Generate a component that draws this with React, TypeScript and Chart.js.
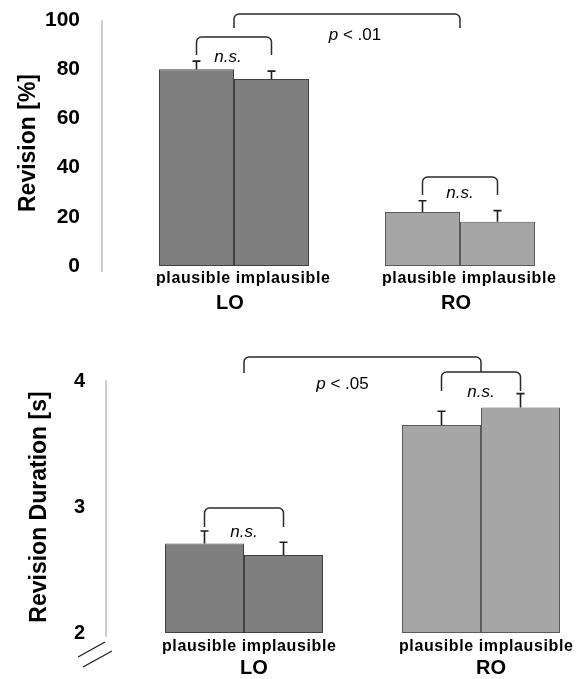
import React, { useEffect, useRef } from 'react';
import { Chart, registerables } from 'chart.js';

Chart.register(...registerables);

const FONT = "'Liberation Sans', Arial, Helvetica, sans-serif";

// ---------- data ----------
const groups = ['LO', 'RO'];
const conditionLabel = 'plausible implausible';

const revisionPlausible = [80, 22];
const revisionImplausible = [76, 18];
const revisionErrPlausible = [3.3, 4.5];
const revisionErrImplausible = [3.2, 4.5];
const revisionTicks = [0, 20, 40, 60, 80, 100];

const durationPlausible = [2.71, 3.65];
const durationImplausible = [2.62, 3.79];
const durationErrPlausible = [0.1, 0.11];
const durationErrImplausible = [0.1, 0.11];
const durationTicks = [2, 3, 4];

// significance brackets: endpoints [group, condition] (condition -1 = group centre), levels in data units
const revisionBrackets = [
  { a: [0, 0], b: [0, 1], top: 93.1, legA: 85.8, legB: 85.8, label: 'n.s.' },
  { a: [0, -1], b: [1, -1], top: 102.4, legA: 96.7, legB: 96.7, label: 'p < .01' },
  { a: [1, 0], b: [1, 1], top: 36.2, legA: 28.9, legB: 28.9, label: 'n.s.' },
];
const durationBrackets = [
  { a: [0, 0], b: [0, 1], top: 2.992, legA: 2.841, legB: 2.841, label: 'n.s.' },
  { a: [0, -1], b: [1, -1], top: 4.19, legA: 4.063, legB: 4.071, label: 'p < .05' },
  { a: [1, 0], b: [1, 1], top: 4.071, legA: 3.921, legB: 3.921, label: 'n.s.' },
];
// text offsets (px) of bracket labels relative to bracket centre / horizontal line
const revisionLabelOffsets = [[-6, 20], [8, 21], [0, 16]];
const durationLabelOffsets = [[0, 24], [-20, 27], [0, 20]];

const DARK = '#7f7f7f';
const LIGHT = '#a6a6a6';

function makePlugin(p: any) {
  return {
    id: 'annot',
    afterDatasetsDraw(chart: any) {
      const ctx = chart.ctx;
      const y = chart.scales.y;
      const x = chart.scales.x;
      const area = chart.chartArea;
      ctx.save();

      // y axis line
      const axisX = area.left - p.axisLineOffset;
      ctx.strokeStyle = '#bdbdbd';
      ctx.lineWidth = 1.5;
      ctx.beginPath();
      ctx.moveTo(axisX, y.getPixelForValue(p.max) + p.axisTopExtra);
      ctx.lineTo(axisX, y.getPixelForValue(p.min) + p.axisBottomExtra);
      ctx.stroke();

      // axis break marks
      if (p.axisBreak) {
        const yb = y.getPixelForValue(p.min);
        ctx.strokeStyle = '#222';
        ctx.lineWidth = 1.4;
        ctx.beginPath();
        ctx.moveTo(axisX - 28, yb + 24);
        ctx.lineTo(axisX - 1, yb + 9);
        ctx.moveTo(axisX - 23, yb + 34);
        ctx.lineTo(axisX + 6, yb + 18);
        ctx.stroke();
      }

      // error bars
      ctx.strokeStyle = '#1e1e1e';
      ctx.lineWidth = 1.6;
      const errs = [p.errP, p.errI];
      const vals = [p.plausible, p.implausible];
      for (let d = 0; d < 2; d++) {
        const meta = chart.getDatasetMeta(d);
        meta.data.forEach((bar: any, i: number) => {
          const yt = y.getPixelForValue(vals[d][i] + errs[d][i]);
          ctx.beginPath();
          ctx.moveTo(bar.x, bar.y);
          ctx.lineTo(bar.x, yt);
          ctx.moveTo(bar.x - 4, yt);
          ctx.lineTo(bar.x + 4, yt);
          ctx.stroke();
        });
      }

      // condition labels
      ctx.fillStyle = '#000';
      ctx.font = `bold 16px ${FONT}`;
      ctx.textAlign = 'left';
      ctx.textBaseline = 'middle';
      try { (ctx as any).letterSpacing = '0.6px'; } catch (e) {}
      const meta0 = chart.getDatasetMeta(0);
      meta0.data.forEach((bar: any) => {
        ctx.fillText(conditionLabel, bar.x - bar.width / 2 - 3, area.bottom + p.subDy);
      });
      try { (ctx as any).letterSpacing = '0px'; } catch (e) {}

      // brackets
      const px = (e: number[]) =>
        e[1] < 0 ? x.getPixelForValue(e[0]) : chart.getDatasetMeta(e[1]).data[e[0]].x;
      ctx.strokeStyle = '#2a2a2a';
      ctx.lineWidth = 1.5;
      p.brackets.forEach((b: any, k: number) => {
        const x1 = px(b.a);
        const x2 = px(b.b);
        const yTop = y.getPixelForValue(b.top);
        const y1 = y.getPixelForValue(b.legA);
        const y2 = y.getPixelForValue(b.legB);
        const r = 5;
        ctx.beginPath();
        ctx.moveTo(x1, y1);
        ctx.arcTo(x1, yTop, x2, yTop, r);
        ctx.arcTo(x2, yTop, x2, y2, r);
        ctx.lineTo(x2, y2);
        ctx.stroke();

        const [dx, dy] = p.labelOffsets[k];
        const cx = (x1 + x2) / 2 + dx;
        const cy = yTop + dy;
        ctx.textBaseline = 'middle';
        ctx.fillStyle = '#000';
        if (b.label.startsWith('p')) {
          const rest = b.label.slice(1);
          ctx.font = `italic 17px ${FONT}`;
          const w1 = ctx.measureText('p').width;
          ctx.font = `17px ${FONT}`;
          const w2 = ctx.measureText(rest).width;
          const sx = cx - (w1 + w2) / 2;
          ctx.textAlign = 'left';
          ctx.font = `italic 17px ${FONT}`;
          ctx.fillText('p', sx, cy);
          ctx.font = `17px ${FONT}`;
          ctx.fillText(rest, sx + w1, cy);
        } else {
          ctx.font = `italic 17px ${FONT}`;
          ctx.textAlign = 'center';
          ctx.fillText(b.label, cx, cy);
        }
      });
      ctx.restore();
    },
  };
}

function buildConfig(p: any): any {
  const common = {
    backgroundColor: [DARK, LIGHT],
    borderColor: ['#404040', '#5a5a5a'],
    borderWidth: 1,
    borderSkipped: false,
    barPercentage: 1,
    categoryPercentage: p.catPct,
    base: p.min,
    clip: { left: false, right: false, top: false, bottom: 0 },
  };
  return {
    type: 'bar',
    data: {
      labels: groups,
      datasets: [
        { label: 'plausible', data: p.plausible, ...common },
        { label: 'implausible', data: p.implausible, ...common },
      ],
    },
    options: {
      responsive: true,
      maintainAspectRatio: false,
      animation: false,
      events: [],
      layout: { padding: { left: 0, right: p.padRight, top: p.padTop, bottom: 0 } },
      plugins: { legend: { display: false }, tooltip: { enabled: false } },
      scales: {
        x: {
          type: 'category',
          offset: false,
          grid: { display: false, drawTicks: false },
          border: { display: false },
          ticks: {
            color: '#000',
            font: { family: FONT, size: 20, weight: 'bold' },
            padding: p.xTickPad,
            labelOffset: p.xLabelOffset,
            maxRotation: 0,
          },
          afterFit: (s: any) => {
            s.height = p.xHeight;
            s.paddingLeft = 0;
            s.paddingRight = 0;
          },
        },
        y: {
          type: 'linear',
          min: p.min,
          max: p.max,
          beginAtZero: false,
          grid: { display: false, drawTicks: false },
          border: { display: false },
          afterBuildTicks: (s: any) => { s.ticks = p.ticks.map((v: number) => ({ value: v })); },
          ticks: {
            color: '#000',
            font: { family: FONT, size: p.tickSize, weight: 'bold' },
            padding: p.yTickPad,
          },
          title: {
            display: true,
            text: p.title,
            color: '#000',
            font: { family: FONT, size: 23, weight: 'bold' },
            padding: { top: p.titlePad, bottom: 0 },
          },
          afterFit: (s: any) => {
            s.width = p.yWidth;
            s.paddingTop = 0;
            s.paddingBottom = 0;
          },
        },
      },
    },
    plugins: [makePlugin(p)],
  };
}

const topPanel = {
  plausible: revisionPlausible,
  implausible: revisionImplausible,
  errP: revisionErrPlausible,
  errI: revisionErrImplausible,
  ticks: revisionTicks,
  min: 0,
  max: 100,
  title: 'Revision [%]',
  brackets: revisionBrackets,
  labelOffsets: revisionLabelOffsets,
  catPct: 150 / 226,
  padRight: 127,
  padTop: 20,
  yWidth: 234,
  xHeight: 54,
  xTickPad: 25,
  xLabelOffset: -4,
  yTickPad: 154,
  tickSize: 21,
  titlePad: 15,
  axisLineOffset: 132,
  axisTopExtra: 0,
  axisBottomExtra: 6,
  axisBreak: false,
  subDy: 13,
};

const bottomPanel = {
  plausible: durationPlausible,
  implausible: durationImplausible,
  errP: durationErrPlausible,
  errI: durationErrImplausible,
  ticks: durationTicks,
  min: 2,
  max: 4,
  title: 'Revision Duration [s]',
  brackets: durationBrackets,
  labelOffsets: durationLabelOffsets,
  catPct: 158 / 237,
  padRight: 106,
  padTop: 61,
  yWidth: 244,
  xHeight: 46,
  xTickPad: 23,
  xLabelOffset: 10,
  yTickPad: 159,
  tickSize: 20,
  titlePad: 26,
  axisLineOffset: 138,
  axisTopExtra: -1,
  axisBottomExtra: 4,
  axisBreak: true,
  subDy: 14,
};

function Panel({ cfg, height }: { cfg: any; height: number }) {
  const ref = useRef<HTMLCanvasElement>(null);
  useEffect(() => {
    const chart = new Chart(ref.current as HTMLCanvasElement, buildConfig(cfg));
    return () => chart.destroy();
  }, []);
  return (
    <div style={{ position: 'relative', width: 587, height }}>
      <canvas ref={ref} style={{ display: 'block' }} />
    </div>
  );
}

export default function App() {
  return (
    <div style={{ position: 'absolute', left: 0, top: 0, width: 587, height: 679, background: '#fff', overflow: 'hidden' }}>
      <Panel cfg={topPanel} height={320} />
      <Panel cfg={bottomPanel} height={359} />
    </div>
  );
}
